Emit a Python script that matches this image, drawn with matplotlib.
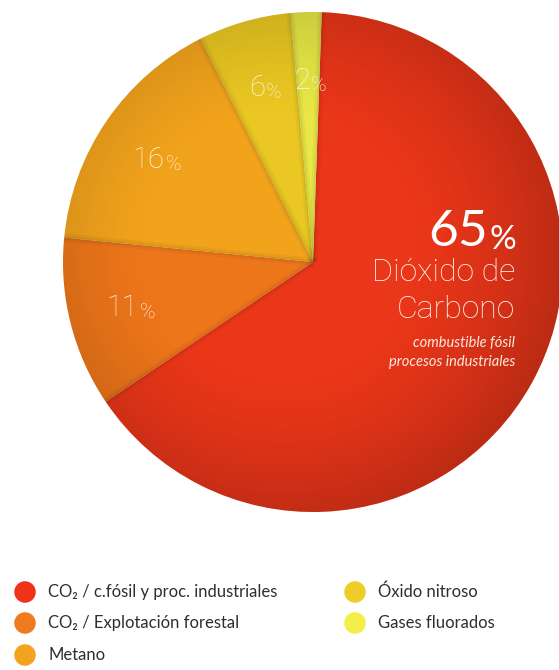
import numpy as np
import matplotlib.pyplot as plt
from matplotlib.patches import Circle

# greenhouse gas shares (percent)
labels = ["CO\u2082 / c.fósil y proc. industriales",
          "CO\u2082 / Explotación forestal",
          "Metano",
          "Óxido nitroso",
          "Gases fluorados"]
values = [65, 11, 16, 6, 2]
slice_colors = ["#ea3619", "#ee761a", "#f2a31c", "#eac722", "#e8e746"]
legend_colors = ["#f03318", "#ef7b1f", "#f2a31f", "#f0cc26", "#f3ef48"]

W, H = 559, 670
FONT = "Lato"
THIN = "Roboto"

fig = plt.figure(figsize=(W / 100, H / 100), dpi=100)
ax = fig.add_axes([0, 0, 1, 1])


def Y(py):
    # pixel rows count from the top, data y counts from the bottom
    return H - py


cx, cy, R = 313, Y(262), 250
wedges, _ = ax.pie(values, colors=slice_colors, startangle=88,
                   counterclock=False, center=(cx, cy), radius=R,
                   wedgeprops=dict(linewidth=0))

# soft shading toward the rim
n = 400
gx, gy = np.meshgrid(np.linspace(cx - R, cx + R, n), np.linspace(cy - R, cy + R, n))
rr = np.hypot(gx - (cx - 30), gy - (cy + 15)) / R
shade = np.zeros((n, n, 4))
shade[..., 3] = 0.26 * np.clip((rr - 0.5) / 0.75, 0, 1) ** 1.5
clip = Circle((cx, cy), R, transform=ax.transData)
im = ax.imshow(shade, extent=(cx - R, cx + R, cy - R, cy + R), origin="lower",
               zorder=3, interpolation="bilinear")
im.set_clip_path(clip)

# soft darker seams between slices
for w in wedges:
    a = np.deg2rad(w.theta1)
    for lw, al in ((6, 0.04), (2.5, 0.06)):
        ax.plot([cx, cx + R * np.cos(a)], [cy, cy + R * np.sin(a)],
                color="#000000", alpha=al, lw=lw, zorder=3,
                solid_capstyle="butt")

TXT = "#fff6dc"


def pct_label(x, y, num, size, weight="light"):
    t = ax.text(x, y, num, ha="right", va="baseline", color=TXT,
                fontsize=size, family=THIN, fontweight=weight, zorder=5)
    ax.annotate("%", xy=(1, 0), xycoords=t, xytext=(1, 0),
                textcoords="offset points", ha="left", va="bottom",
                color=TXT, fontsize=size * 0.72, family=THIN,
                fontweight=weight, zorder=5)


# small slice labels at the wedge middles
for w, v in zip(wedges[1:], values[1:]):
    mid = np.deg2rad((w.theta1 + w.theta2) / 2)
    d = 0.73 * R
    pct_label(cx + d * np.cos(mid) + 2, cy + d * np.sin(mid) - 9, f"{v}", 21)

# main slice block
t65 = ax.text(488, Y(246), f"{values[0]}", ha="right", va="baseline",
              color="white", fontsize=37, family=FONT, fontweight="normal", zorder=5)
ax.annotate("%", xy=(1, 0), xycoords=t65, xytext=(1, 0), textcoords="offset points",
            ha="left", va="bottom", color="white", fontsize=24, family=FONT, zorder=5)
for txt, py in (("Dióxido de", 281), ("Carbono", 318)):
    ax.text(515, Y(py), txt, ha="right", va="baseline", color="#fff3ea",
            fontsize=23, family=THIN, fontweight="light", zorder=5)
for txt, py in (("combustible fósil", 347), ("procesos industriales", 366)):
    ax.text(515, Y(py), txt, ha="right", va="baseline", color="#fde9dc",
            fontsize=10.5, family=FONT, style="italic", zorder=5)

# legend: two columns, three rows max
col_x = [25, 355]
row_y = [592, 623, 655]
for i, (lab, col) in enumerate(zip(labels, legend_colors)):
    c, r = divmod(i, 3)
    x, y = col_x[c], row_y[r]
    ax.scatter([x], [Y(y)], s=240, color=col, edgecolors="none", zorder=5)
    ax.text(x + 23, Y(y), lab, ha="left", va="center", color="#2e2e2e",
            fontsize=12, family=FONT, zorder=5)

ax.set_xlim(0, W)
ax.set_ylim(0, H)
ax.set_aspect("equal")
ax.axis("off")

fig.savefig("out.png", dpi=100, facecolor="white")
